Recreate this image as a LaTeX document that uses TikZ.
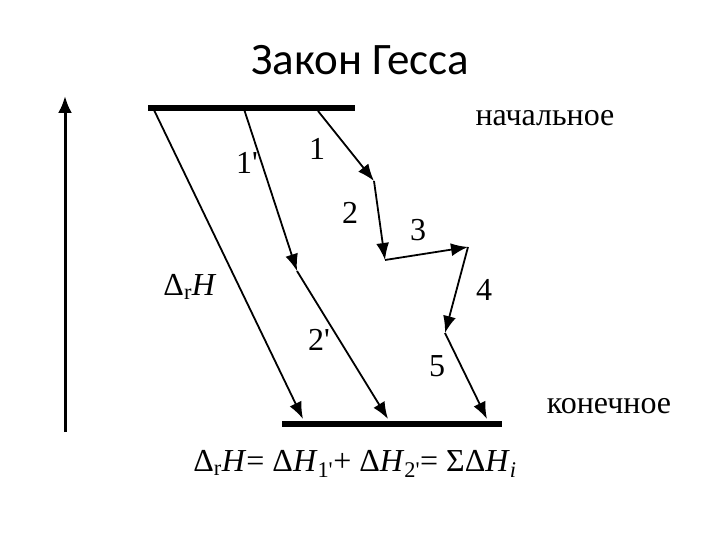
\documentclass[tikz,border=0pt]{standalone}
\usepackage{fontspec}
\setmainfont{Liberation Serif}
\newfontfamily\titlefont{Carlito}
\usetikzlibrary{arrows.meta}
\newcommand{\pr}{\textquotesingle}
\begin{document}
\begin{tikzpicture}[x=1pt,y=-1pt,
  lbl/.style={font=\fontsize{32}{36}\selectfont, inner sep=0pt},
  arr/.style={line width=1.8pt, -{Latex[length=17pt,width=13pt]}},
  lvl/.style={line width=6pt}]
\useasboundingbox (0,0) rectangle (720,540);
\node[font=\titlefont\fontsize{45}{50}\selectfont] (title) at (360,60) {Закон Гесса};
% levels
\coordinate (t1) at (148,108); \coordinate (t2) at (355,108);
\coordinate (b1) at (282,424); \coordinate (b2) at (502,424);
\draw[lvl] (t1) -- (t2);
\draw[lvl] (b1) -- (b2);
% vertical axis
\coordinate (v0) at (65,432); \coordinate (v1) at (65,96);
\draw[line width=3pt, -{Latex[length=17pt,width=14pt]}] (v0) -- (v1);
% points
\coordinate (p0) at (154,110);
\coordinate (pe0) at (303,419);
\coordinate (q0) at (243,106);
\coordinate (q1) at (297,271);
\coordinate (qe) at (388,419);
\coordinate (r0) at (318,111);
\coordinate (r1) at (374,181);
\coordinate (r2) at (385,260);
\coordinate (r3) at (468,247);
\coordinate (r4) at (445,333);
\coordinate (re) at (487,419);
\draw[arr] (p0) -- (pe0);
\draw[arr] (q0) -- (q1);
\draw[arr] (q1) -- (qe);
\draw[arr] (r0) -- (r1);
\draw[arr] (r1) -- (r2);
\draw[arr] (r2) -- (r3);
\draw[arr] (r3) -- (r4);
\draw[arr] (r4) -- (re);
% labels
\node[lbl] (l1) at (317,149) {1};
\node[lbl] (l1p) at (247,163) {1\pr};
\node[lbl] (l2) at (350,213) {2};
\node[lbl] (l3) at (418,230) {3};
\node[lbl] (l4) at (484,290) {4};
\node[lbl] (l5) at (437,366) {5};
\node[lbl] (l2p) at (319,340) {2\pr};
\node[lbl] (ldh) at (190,287) {Δ\textsubscript{r}\textit{H}};
\node[lbl] (nach) at (545,118) {начальное};
\node[lbl] (kon) at (609,406) {конечное};
\node[lbl] (eq) at (355,464) {Δ\textsubscript{r}\textit{H}= Δ\textit{H}\textsubscript{1\pr}+ Δ\textit{H}\textsubscript{2\pr}= ΣΔ\textit{H}\textsubscript{\textit{i}}};
\end{tikzpicture}
\end{document}
